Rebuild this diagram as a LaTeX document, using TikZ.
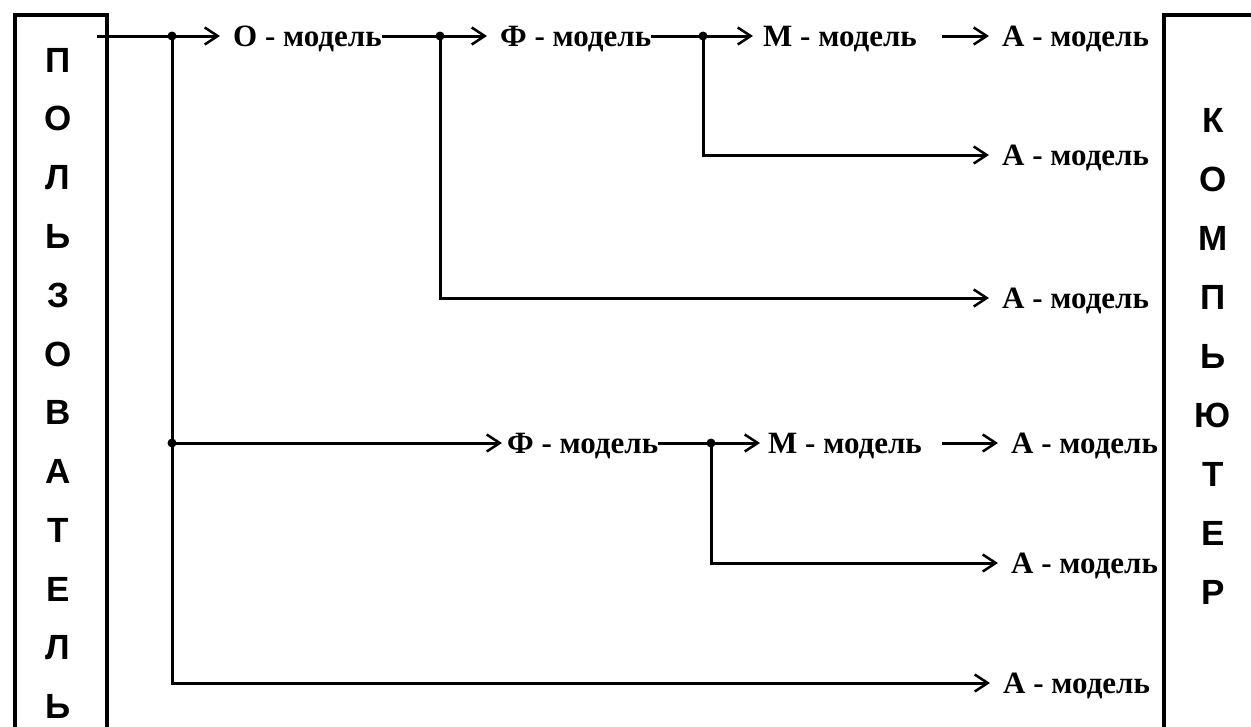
\documentclass[tikz,border=0pt]{standalone}
\usepackage{fontspec}
\setmainfont{Liberation Serif}
\newfontfamily\boxfont{Liberation Sans}
\usetikzlibrary{arrows.meta}
\tikzset{
  lbl/.style={inner sep=0pt, anchor=west, text height=20pt, text depth=0pt,
    font=\fontsize{31}{31}\selectfont\bfseries},
  conn/.style={line width=3pt},
  arr/.style={conn, -{Straight Barb[length=13pt,width=17pt,line width=2.5pt]}, shorten >=13pt},
  boxl/.style={font=\boxfont\fontsize{35}{35}\selectfont\bfseries, inner sep=0pt},
  frame/.style={draw, line width=4pt, inner sep=0pt, anchor=north west}
}
\begin{document}
\begin{tikzpicture}[x=1pt,y=-1pt]
\useasboundingbox (0,0) rectangle (1251,726);
\clip (0,0) rectangle (1251,726);
% frames
\node[frame, minimum width=92pt, minimum height=800pt] (user) at (13,13) {};
\node[frame, minimum width=150pt, minimum height=800pt] (comp) at (1162,13) {};
\foreach \c [count=\i from 0] in {П,О,Л,Ь,З,О,В,А,Т,Е,Л,Ь}
  \node[boxl] (u\i) at (58, 60+58.8*\i) {\c};
\foreach \c [count=\i from 0] in {К,О,М,П,Ь,Ю,Т,Е,Р}
  \node[boxl] (c\i) at (1213, 120+59.1*\i) {\c};
% labels
\node[lbl] (O1) at (233,36) {О - модель};
\node[lbl] (F1) at (500,36) {Ф - модель};
\node[lbl] (M1) at (763,36) {М - модель};
\node[lbl] (A1) at (1002,36) {А - модель};
\node[lbl] (A2) at (1002,155) {А - модель};
\node[lbl] (A3) at (1002,298) {А - модель};
\node[lbl] (F2) at (507,443) {Ф - модель};
\node[lbl] (M2) at (768,443) {М - модель};
\node[lbl] (A4) at (1011,443) {А - модель};
\node[lbl] (A5) at (1011,563) {А - модель};
\node[lbl] (A6) at (1003,683) {А - модель};
% junctions
\coordinate (s) at (97,36);
\coordinate (d1) at (172,36);
\coordinate (d2) at (440,36);
\coordinate (d3) at (703,36);
\coordinate (d4) at (172,443);
\coordinate (d5) at (711,443);
% connectors
\draw[arr] (s) -- (O1.west);
\draw[conn] (O1.east) -- (d2);
\draw[arr] (d2) -- (F1.west);
\draw[conn] (F1.east) -- (d3);
\draw[arr, shorten >=10pt] (d3) -- (M1.west);
\draw[arr, shorten <=25pt] (M1.east) -- (A1.west);
\draw[arr] (d3) |- (A2.west);
\draw[arr] (d2) |- (A3.west);
\draw[arr] (d1) |- (A6.west);
\draw[arr, shorten >=5pt] (d4) -- (F2.west);
\draw[conn] (F2.east) -- (d5);
\draw[arr, shorten >=8pt] (d5) -- (M2.west);
\draw[arr, shorten <=20pt] (M2.east) -- (A4.west);
\draw[arr] (d5) |- (A5.west);
\foreach \d in {d1,d2,d3,d4,d5} \fill (\d) circle (4.5pt);
\end{tikzpicture}
\end{document}
